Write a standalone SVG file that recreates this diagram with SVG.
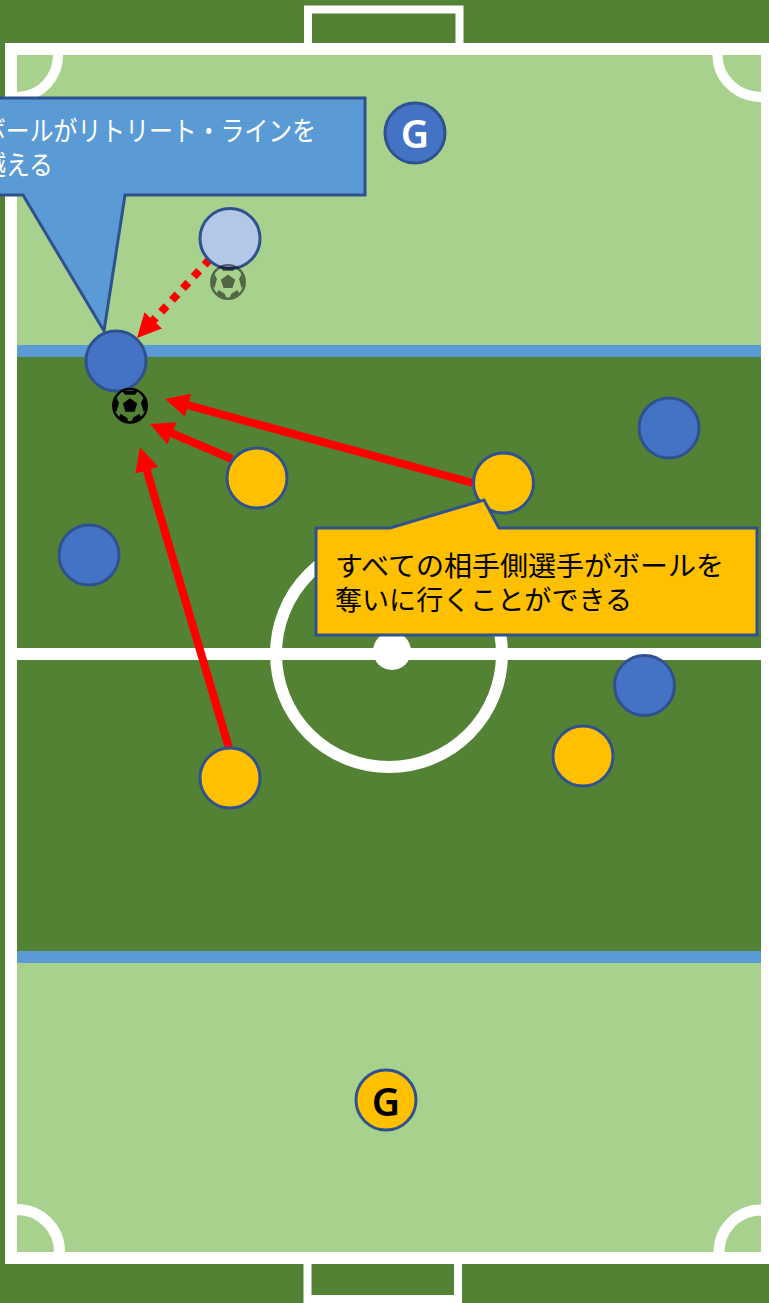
<svg xmlns="http://www.w3.org/2000/svg" width="769" height="1303" viewBox="0 0 769 1303">
<style>
.line{fill:none;stroke:#fff}
.p{stroke:#2F528F;stroke-width:3}
.b{fill:#4472C4}
.y{fill:#FFC000}
.red{fill:none;stroke:#f00;stroke-width:8;marker-end:url(#ah)}
.t{font-family:"Noto Sans CJK JP","Liberation Sans",sans-serif;font-size:27.5px}
.g{font-family:"Noto Sans","Liberation Sans",sans-serif;font-size:39px;font-weight:600;text-anchor:middle}
</style>
<defs>
<marker id="ah" viewBox="0 0 24 24" refX="6" refY="12" markerWidth="24" markerHeight="24" markerUnits="userSpaceOnUse" orient="auto"><path d="M0 0L24 12L0 24z" fill="#f00"/></marker>
<g id="ball">
<circle r="16.800" fill="none" stroke="#000" stroke-width="2.400"/>
<path d="M0-7.500L7.200-2.300L4.500 6H-4.500L-7.200-2.300z" fill="#000"/>
<path d="M-8-15L8-15L5-11H-5zM14-9L17 3L13.500 6L11-3zM-14-9L-17 3L-13.500 6L-11-3zM1.500 16.500L11.500 12.500L9.500 8L3 12zM-1.500 16.500L-11.500 12.500L-9.500 8L-3 12z" fill="#000"/>
</g>
</defs>
<rect width="769" height="1303" fill="#548235"/>
<g id="pitch">
<rect x="11" y="49" width="764" height="1209" fill="#A9D18E" stroke="#fff" stroke-width="12"/>
<rect x="17" y="345" width="752" height="618" fill="#5B9BD5"/>
<rect x="17" y="357" width="752" height="594" fill="#548235"/>
<rect x="761" y="55" width="8" height="1197" fill="#fff"/>
<path class="line" stroke-width="8" d="M308 43V9.500H459.500V43M307.500 1264V1299H458V1264"/>
<path class="line" stroke-width="10" d="M58 55A41 42 0 0 1 17 97M717.500 55A43.500 42 0 0 0 761 97"/>
<path class="line" stroke-width="11" d="M59.500 1252A42.500 42.500 0 0 0 17 1209.500M719 1252A42 42 0 0 1 761 1210"/>
<rect x="17" y="648" width="752" height="12" fill="#fff"/>
<circle class="line" cx="389" cy="654" r="113" stroke-width="12"/>
<circle cx="392" cy="651" r="19" fill="#fff"/>
</g>
<g id="connectors">
<path class="red" d="M473 483L182.400 403.700"/>
<path class="red" d="M232 459L166.600 431"/>
<path class="red" d="M229 748L145.100 464.600"/>
<path class="red" stroke-dasharray="8 8" d="M210 259L149.200 324.800"/>
</g>
<g id="node-blue-g"><circle class="p b" cx="415" cy="133" r="30"/><text class="g" x="415" y="148" fill="#fff">G</text></g>
<g id="node-faded"><circle class="p" fill="#B4C7E7" cx="230" cy="238.500" r="30"/></g>
<g id="faded-ball" opacity=".5"><use href="#ball" x="228" y="282"/></g>
<g id="node-blue-1"><circle class="p b" cx="116" cy="361" r="30"/></g>
<g id="ball-main"><use href="#ball" x="130" y="405.700"/></g>
<g id="node-blue-2"><circle class="p b" cx="669" cy="428" r="30"/></g>
<g id="node-blue-3"><circle class="p b" cx="89" cy="555" r="30"/></g>
<g id="node-blue-4"><circle class="p b" cx="644.500" cy="685.500" r="30"/></g>
<g id="node-yellow-1"><circle class="p y" cx="257" cy="478" r="30"/></g>
<g id="node-yellow-2"><circle class="p y" cx="503.500" cy="483" r="30"/></g>
<g id="node-yellow-3"><circle class="p y" cx="230" cy="778" r="30"/></g>
<g id="node-yellow-4"><circle class="p y" cx="583" cy="756" r="30"/></g>
<g id="node-yellow-g"><circle class="p y" cx="386" cy="1100" r="30"/><text class="g" x="386" y="1116" fill="#000">G</text></g>
<g id="callout-blue"><path d="M-20 98H365V195H125L104 331L23 195H-20z" fill="#5B9BD5" stroke="#2F528F" stroke-width="3"/>
<text class="t" fill="#fff" x="-18" y="141" textLength="334" lengthAdjust="spacingAndGlyphs">ボールがリトリート・ラインを</text>
<text class="t" fill="#fff" x="-18" y="175" textLength="71" lengthAdjust="spacingAndGlyphs">越える</text></g>
<g id="callout-yellow"><path d="M316 528H390L484 500L499 528H757V635H316z" fill="#FFC000" stroke="#2F528F" stroke-width="3"/>
<text class="t" fill="#000" x="335" y="576" textLength="389" lengthAdjust="spacingAndGlyphs">すべての相手側選手がボールを</text>
<text class="t" fill="#000" x="335" y="610" textLength="297" lengthAdjust="spacingAndGlyphs">奪いに行くことができる</text></g>
</svg>
